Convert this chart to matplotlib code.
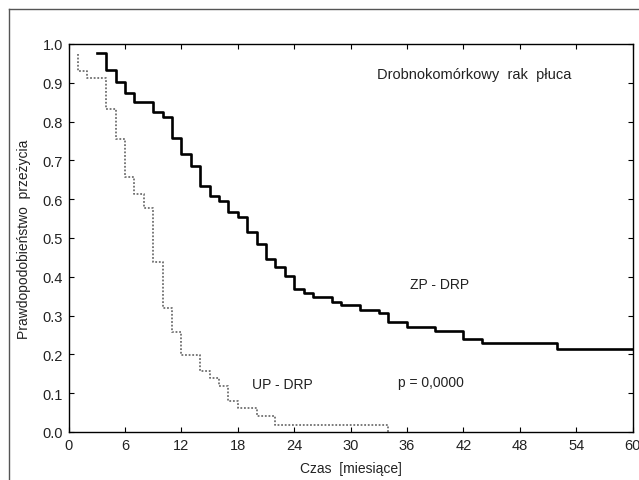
import matplotlib
matplotlib.use("Agg")
import matplotlib.pyplot as plt
from matplotlib.lines import Line2D

plt.rcParams['font.family'] = ['Liberation Sans', 'DejaVu Sans']

# ZP - DRP (solid) Kaplan-Meier steps
zp_t = [3, 4, 5, 6, 7, 9, 10, 11, 12, 13, 14, 15, 16, 17, 18, 19, 20, 21, 22, 23,
        24, 25, 26, 28, 29, 31, 33, 34, 36, 39, 42, 44, 52, 60]
zp_s = [0.977, 0.934, 0.903, 0.874, 0.851, 0.824, 0.813, 0.757, 0.717, 0.685, 0.635,
        0.607, 0.595, 0.566, 0.555, 0.516, 0.485, 0.446, 0.424, 0.403, 0.369, 0.358,
        0.349, 0.336, 0.328, 0.315, 0.307, 0.283, 0.271, 0.260, 0.240, 0.229, 0.213, 0.213]

# UP - DRP (dotted)
up_t = [1, 1, 2, 4, 5, 6, 7, 8, 9, 10, 11, 12, 14, 15, 16, 17, 18, 20, 22, 34]
up_s = [0.975, 0.931, 0.912, 0.832, 0.755, 0.656, 0.613, 0.577, 0.437, 0.319, 0.259,
        0.198, 0.158, 0.138, 0.118, 0.081, 0.061, 0.040, 0.018, 0.0]

x_ticks = [0, 6, 12, 18, 24, 30, 36, 42, 48, 54, 60]
y_ticks = [0.0, 0.1, 0.2, 0.3, 0.4, 0.5, 0.6, 0.7, 0.8, 0.9, 1.0]

W, H = 639, 481
fig = plt.figure(figsize=(W / 100, H / 100), dpi=100)
ax = fig.add_axes([68.5 / W, (H - 433) / H, (632.7 - 68.5) / W, (433 - 45) / H])

ax.plot(zp_t, zp_s, drawstyle='steps-post', color='black', lw=1.9)
ax.plot(up_t, up_s, drawstyle='steps-post', color='#707070', lw=1.3, ls=(0, (1, 1)))

ax.set_xlim(0, 60)
ax.set_ylim(0, 1.0)
ax.set_xticks(x_ticks)
ax.set_xticklabels([str(v) for v in x_ticks])
ax.set_yticks(y_ticks)
ax.set_yticklabels([f"{v:.1f}" for v in y_ticks])
ax.tick_params(direction='in', length=3.5, width=0.8, top=True, right=True,
               labelsize=10.5, colors='black', labelcolor='#222222', pad=4)
for s in ax.spines.values():
    s.set_linewidth(1.0)
    s.set_color('black')

ax.set_xlabel('Czas  [miesiące]', fontsize=10, color='#222222', labelpad=7)
ax.set_ylabel('Prawdopodobieństwo  przeżycia', fontsize=10, color='#222222', labelpad=8)

texts = [
    (474.5, 75, 'Drobnokomórkowy  rak  płuca', 10.5),
    (440, 285, 'ZP - DRP', 10),
    (282, 385, 'UP - DRP', 10),
    (431, 383, 'p = 0,0000', 10),
]
for x, y, s, fs in texts:
    fig.text(x / W, 1 - y / H, s, fontsize=fs, color='#222222', ha='center', va='center')

# outer frame (top and left edges)
fig.add_artist(Line2D([9 / W, 1.0], [1 - 10 / H, 1 - 10 / H], transform=fig.transFigure,
                      color='#555555', lw=1.0))
fig.add_artist(Line2D([9 / W, 9 / W], [0.0, 1 - 10 / H], transform=fig.transFigure,
                      color='#555555', lw=1.0))

fig.savefig('out.png', dpi=100)
